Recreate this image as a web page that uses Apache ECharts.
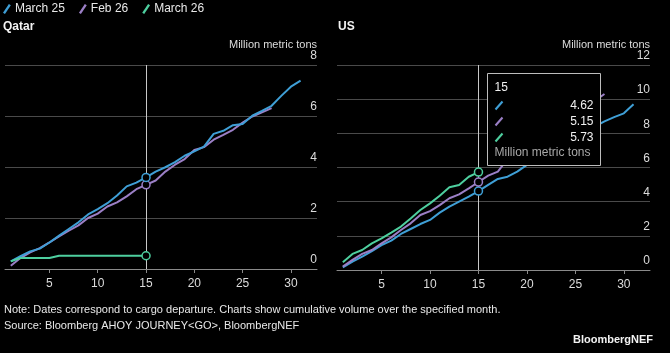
<!DOCTYPE html>
<html>
<head>
<meta charset="utf-8">
<script src="https://cdn.jsdelivr.net/npm/echarts@6/dist/echarts.min.js"></script>
<style>
  html, body { margin: 0; padding: 0; background: #000; }
  #chart { width: 670px; height: 353px; }
</style>
</head>
<body>
<div id="chart"></div>
<script>
// days of month, 1..31
const days = Array.from({ length: 31 }, (_, i) => i + 1);
const seriesNames = ['March 25', 'Feb 26', 'March 26'];
const colors = ['#3f9fd6', '#9b7fc6', '#4ecf9f'];
const xTicks = [5, 10, 15, 20, 25, 30];

// Qatar, million metric tons, cumulative
const qatarMar25 = [0.30, 0.50, 0.69, 0.80, 1.04, 1.31, 1.57, 1.83, 2.14, 2.35, 2.58, 2.88, 3.24, 3.39, 3.59,
  3.82, 3.99, 4.19, 4.44, 4.61, 4.80, 5.30, 5.42, 5.64, 5.69, 6.01, 6.20, 6.40, 6.79, 7.15, 7.39];
const qatarFeb26 = [0.13, 0.43, 0.65, 0.82, 1.04, 1.28, 1.50, 1.71, 2.00, 2.17, 2.45, 2.61, 2.85, 3.13, 3.30,
  3.47, 3.82, 4.09, 4.31, 4.67, 4.78, 5.07, 5.26, 5.46, 5.74, 5.98, 6.14, 6.31];
const qatarMar26 = [0.30, 0.43, 0.43, 0.43, 0.43, 0.52, 0.52, 0.52, 0.52, 0.52, 0.52, 0.52, 0.52, 0.52, 0.52];

// US, million metric tons, cumulative
const usMar25 = [0.16, 0.49, 0.78, 1.11, 1.46, 1.72, 2.11, 2.40, 2.69, 2.93, 3.36, 3.71, 4.00, 4.29, 4.62,
  4.98, 5.33, 5.46, 5.76, 6.15, 6.50, 6.80, 7.15, 7.45, 7.75, 8.05, 8.40, 8.70, 8.95, 9.17, 9.70];
const usFeb26 = [0.20, 0.59, 0.94, 1.17, 1.56, 1.91, 2.34, 2.73, 3.22, 3.45, 3.80, 4.20, 4.43, 4.78, 5.15,
  5.52, 5.76, 6.50, 6.85, 7.25, 7.60, 8.00, 8.40, 8.80, 9.15, 9.55, 9.90, 10.30];
const usMar26 = [0.45, 0.94, 1.17, 1.56, 1.85, 2.19, 2.54, 3.02, 3.51, 3.90, 4.35, 4.84, 4.98, 5.46, 5.73];

const hoverDay = 15;
const unit = 'Million metric tons';

const chart = echarts.init(document.getElementById('chart'));

const font = 'Liberation Sans';
const pairs = (vals) => vals.map((v, i) => [days[i], v]);

function makeSeries(name, color, vals, gridIdx, withLine) {
  const s = {
    name: name,
    type: 'line',
    xAxisIndex: gridIdx,
    yAxisIndex: gridIdx,
    data: pairs(vals),
    showAllSymbol: true,
    symbol: (value, params) => (params.dataIndex === hoverDay - 1 ? 'circle' : 'none'),
    symbolSize: 8,
    lineStyle: { color: color, width: 2 },
    itemStyle: { color: '#000', borderColor: color, borderWidth: 1.5 },
    emphasis: { disabled: true },
    silent: true,
    animation: false,
    z: 3
  };
  if (withLine) {
    s.markLine = {
      silent: true,
      symbol: 'none',
      label: { show: false },
      lineStyle: { color: '#c8c8c8', width: 1, type: 'solid' },
      data: [{ xAxis: hoverDay }],
      z: 1
    };
  }
  return s;
}

function xAxisFor(gridIdx) {
  return {
    type: 'value',
    gridIndex: gridIdx,
    min: 0.4,
    max: 32.7,
    splitLine: { show: false },
    axisLine: { show: true, lineStyle: { color: '#8a8a8a', width: 1 } },
    axisTick: { show: true, customValues: xTicks, length: 4, lineStyle: { color: '#8a8a8a' } },
    axisLabel: { customValues: xTicks, color: '#dcdcdc', fontFamily: font, fontSize: 12, margin: 9 }
  };
}

function yAxisFor(gridIdx, max) {
  return {
    type: 'value',
    gridIndex: gridIdx,
    position: 'right',
    min: 0,
    max: max,
    interval: 2,
    name: unit,
    nameLocation: 'end',
    nameGap: 15,
    nameTextStyle: { color: '#dcdcdc', fontFamily: font, fontSize: 11, align: 'right', verticalAlign: 'bottom' },
    axisLine: { show: false },
    axisTick: { show: false },
    splitLine: { lineStyle: { color: '#4a4a4a', width: 1 } },
    axisLabel: {
      inside: true, margin: 0, color: '#dcdcdc', fontFamily: font, fontSize: 12,
      verticalAlign: 'bottom', padding: [0, 0, 3, 0]
    }
  };
}

// tooltip box for the US panel at day 15
const usVals = [usMar25, usFeb26, usMar26].map(a => a[hoverDay - 1].toFixed(2));
const tipZ = 100;
const tipChildren = [
  { type: 'rect', z: tipZ, shape: { x: 0, y: 0, width: 113, height: 92 },
    style: { fill: '#000', stroke: '#bdbdbd', lineWidth: 1 } },
  { type: 'text', z: tipZ + 1, style: { text: String(hoverDay), x: 7, y: 14, verticalAlign: 'middle',
    fill: '#f0f0f0', font: '12px ' + font } },
  { type: 'text', z: tipZ + 1, style: { text: unit, x: 7, y: 79, verticalAlign: 'middle',
    fill: '#a8a8a8', font: '12px ' + font } }
];
usVals.forEach((v, i) => {
  const y = 32 + i * 16;
  tipChildren.push({ type: 'line', z: tipZ + 1, shape: { x1: 8, y1: y + 4, x2: 15, y2: y - 4 },
    style: { stroke: colors[i], lineWidth: 2 } });
  tipChildren.push({ type: 'text', z: tipZ + 1, style: { text: v, x: 106, y: y, align: 'right',
    verticalAlign: 'middle', fill: '#f0f0f0', font: '12px ' + font } });
});

const option = {
  backgroundColor: '#000',
  animation: false,
  textStyle: { fontFamily: font },
  legend: {
    left: 3,
    top: 3,
    padding: 0,
    itemGap: 14,
    itemWidth: 8,
    itemHeight: 10,
    icon: 'path://M0,9 L6,0 L8,1.2 L2,10.2 Z',
    textStyle: { color: '#e8e8e8', fontFamily: font, fontSize: 12, padding: [0, 0, 0, -1] },
    data: seriesNames.map((n, i) => ({ name: n, itemStyle: { color: colors[i], borderWidth: 0 } }))
  },
  title: [
    { text: 'Qatar', left: 3, top: 21, padding: 0,
      textStyle: { color: '#f2f2f2', fontFamily: font, fontSize: 12, fontWeight: 'bold' } },
    { text: 'US', left: 338, top: 21, padding: 0,
      textStyle: { color: '#f2f2f2', fontFamily: font, fontSize: 12, fontWeight: 'bold' } },
    { text: 'Note: Dates correspond to cargo departure. Charts show cumulative volume over the specified month.',
      left: 4, top: 304, padding: 0,
      textStyle: { color: '#e8e8e8', fontFamily: font, fontSize: 11, fontWeight: 'normal' } },
    { text: 'Source: Bloomberg AHOY JOURNEY<GO>, BloombergNEF',
      left: 4, top: 320, padding: 0,
      textStyle: { color: '#e8e8e8', fontFamily: font, fontSize: 11, fontWeight: 'normal' } },
    { text: 'BloombergNEF', right: 17, top: 334, padding: 0,
      textStyle: { color: '#f2f2f2', fontFamily: font, fontSize: 11, fontWeight: 'bold' } }
  ],
  grid: [
    { left: 5, right: 353, top: 65, bottom: 84 },
    { left: 337, right: 20, top: 65, bottom: 83 }
  ],
  xAxis: [xAxisFor(0), xAxisFor(1)],
  yAxis: [yAxisFor(0, 8), yAxisFor(1, 12)],
  series: [
    makeSeries(seriesNames[1], colors[1], qatarFeb26, 0, true),
    makeSeries(seriesNames[0], colors[0], qatarMar25, 0, false),
    makeSeries(seriesNames[2], colors[2], qatarMar26, 0, false),
    makeSeries(seriesNames[0], colors[0], usMar25, 1, true),
    makeSeries(seriesNames[1], colors[1], usFeb26, 1, false),
    makeSeries(seriesNames[2], colors[2], usMar26, 1, false)
  ],
  graphic: [{ type: 'group', left: 487, top: 73, z: tipZ, children: tipChildren }]
};

chart.setOption(option);
</script>
</body>
</html>
